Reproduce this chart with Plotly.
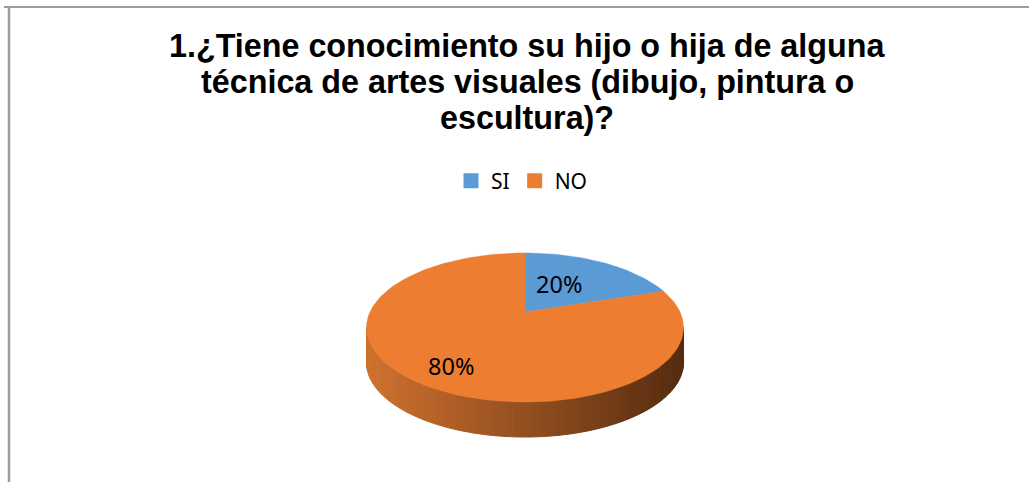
import math
import plotly.graph_objects as go

# ---- data ----
categories = ["SI", "NO"]
values = [20, 80]
slice_colors = ["#5B9BD5", "#ED7D31"]
title_lines = ["1.¿Tiene conocimiento su hijo o hija de alguna",
               "técnica de artes visuales (dibujo, pintura o",
               "escultura)?"]

W, H = 1029, 482

# ---- 3D pie projection parameters (pixel space) ----
CX, CY = 525.0, 312.0   # projected centre of the top face
SX, KY = 155.0, 71.3    # horizontal / vertical scale
P = 0.208               # perspective factor
DEPTH = 35.0            # thickness of the pie


def proj(theta, r=1.0, drop=0.0):
    X = r * math.sin(theta)
    Z = r * math.cos(theta)
    d = 1.0 + P * Z
    return CX + SX * X / d, CY - KY * Z / d + drop


fig = go.Figure()

# side (visible front rim) with shading gradient
t0 = math.acos(-P)
t1 = 2 * math.pi - t0
N = 90
xl = proj(t1)[0]
xr = proj(t0)[0]
c_left = (208, 114, 48)
c_right = (86, 44, 16)
for i in range(N):
    a = t0 + (t1 - t0) * i / N
    b = t0 + (t1 - t0) * (i + 1) / N
    pts = [proj(a), proj(b), proj(b, drop=DEPTH), proj(a, drop=DEPTH)]
    xm = (pts[0][0] + pts[1][0]) / 2
    u = (xm - xl) / (xr - xl)
    u = min(max(u, 0), 1)
    col = tuple(int(c_left[k] + (c_right[k] - c_left[k]) * u) for k in range(3))
    cs = "rgb(%d,%d,%d)" % col
    fig.add_trace(go.Scatter(
        x=[p[0] for p in pts] + [pts[0][0]],
        y=[p[1] for p in pts] + [pts[0][1]],
        mode="lines", fill="toself", fillcolor=cs,
        line=dict(color=cs, width=1), hoverinfo="skip", showlegend=False))

# top faces
total = sum(values)
cum = 0.0
for cat, v, col in zip(categories, values, slice_colors):
    a0 = 2 * math.pi * cum / total
    a1 = 2 * math.pi * (cum + v) / total
    cum += v
    n = max(int(200 * v / total), 8)
    xs, ys = [CX], [CY]
    for j in range(n + 1):
        px, py = proj(a0 + (a1 - a0) * j / n)
        xs.append(px)
        ys.append(py)
    xs.append(CX)
    ys.append(CY)
    fig.add_trace(go.Scatter(
        x=xs, y=ys, mode="lines", fill="toself", fillcolor=col,
        line=dict(color=col, width=0.5), hoverinfo="skip", showlegend=False))

# legend entries
for cat, col in zip(categories, slice_colors):
    fig.add_trace(go.Scatter(
        x=[None], y=[None], mode="markers", name=cat,
        marker=dict(symbol="square", size=15, color=col)))

# data labels
label_pos = [(559, 284), (451, 366)]
for v, (lx, ly) in zip(values, label_pos):
    fig.add_annotation(x=lx, y=ly, xref="x", yref="y",
                       text=f"{v / total:.0%}", showarrow=False,
                       font=dict(family="Noto Sans", size=23.5, color="#000000"))

# title (one annotation per line)
title_centres = [46, 82, 118]
for line, yc in zip(title_lines, title_centres):
    fig.add_annotation(x=527 / W, y=1 - yc / H, xref="paper", yref="paper",
                       xanchor="center", yanchor="middle",
                       text=line, showarrow=False,
                       font=dict(family="Liberation Sans", size=32.3,
                                 color="#000000", weight="bold"))

# chart border (top and left visible)
fig.add_shape(type="line", xref="paper", yref="paper",
              x0=4 / W, x1=1, y0=1 - 7 / H, y1=1 - 7 / H,
              line=dict(color="#9C9C9C", width=2))
fig.add_shape(type="line", xref="paper", yref="paper",
              x0=9 / W, x1=9 / W, y0=0, y1=1 - 6 / H,
              line=dict(color="#9C9C9C", width=2.5))

fig.update_layout(
    width=W, height=H,
    margin=dict(l=0, r=0, t=0, b=0),
    paper_bgcolor="white", plot_bgcolor="white",
    xaxis=dict(range=[0, W], visible=False, fixedrange=True),
    yaxis=dict(range=[H, 0], visible=False, fixedrange=True),
    legend=dict(orientation="h", x=522 / W, xanchor="center",
                y=1 - 181 / H, yanchor="middle",
                font=dict(family="Noto Sans", size=21, color="#000000"),
                bgcolor="rgba(0,0,0,0)"),
    showlegend=True,
)

fig.write_html("out.html")
